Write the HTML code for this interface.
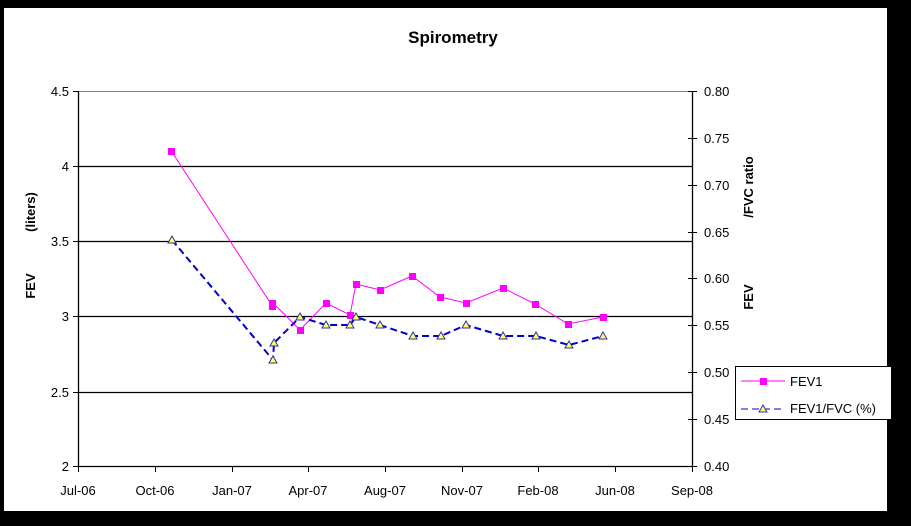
<!DOCTYPE html>
<html><head><style>
html,body{margin:0;padding:0;background:#000;width:911px;height:526px;overflow:hidden}
svg{display:block}
text{font-family:"Liberation Sans",Arial,sans-serif}
</style></head><body>
<svg width="911" height="526" viewBox="0 0 911 526" xmlns="http://www.w3.org/2000/svg">
<rect x="0" y="0" width="911" height="526" fill="#000"/>
<rect x="3" y="7" width="885" height="505" fill="#fff"/>
<rect x="3.5" y="7.5" width="884" height="504" fill="none" stroke="#000" stroke-width="1"/>
<text x="453" y="43" text-anchor="middle" font-size="17" font-weight="bold">Spirometry</text>
<line x1="78" y1="91.5" x2="692" y2="91.5" stroke="#808080"/>
<g stroke="#000" stroke-width="1.3">
<line x1="78" y1="166.5" x2="692" y2="166.5"/>
<line x1="78" y1="241.5" x2="692" y2="241.5"/>
<line x1="78" y1="316.5" x2="692" y2="316.5"/>
<line x1="78" y1="392.5" x2="692" y2="392.5"/>
<line x1="78" y1="466.5" x2="692" y2="466.5"/>
<line x1="78.5" y1="91" x2="78.5" y2="467"/>
<line x1="692.5" y1="91" x2="692.5" y2="467"/>
</g>
<g stroke="#000">
<line x1="73" y1="91.5" x2="78" y2="91.5"/><line x1="73" y1="166.5" x2="78" y2="166.5"/>
<line x1="73" y1="241.5" x2="78" y2="241.5"/><line x1="73" y1="316.5" x2="78" y2="316.5"/>
<line x1="73" y1="392.5" x2="78" y2="392.5"/><line x1="73" y1="466.5" x2="78" y2="466.5"/>
</g>
<g font-size="13" text-anchor="end" fill="#000">
<text x="69" y="96">4.5</text><text x="69" y="171">4</text><text x="69" y="246">3.5</text>
<text x="69" y="321">3</text><text x="69" y="397">2.5</text><text x="69" y="471">2</text>
</g>
<g stroke="#000">
<line x1="688" y1="91.5" x2="697" y2="91.5"/><line x1="688" y1="138.5" x2="697" y2="138.5"/>
<line x1="688" y1="185.5" x2="697" y2="185.5"/><line x1="688" y1="232.5" x2="697" y2="232.5"/>
<line x1="688" y1="278.5" x2="697" y2="278.5"/><line x1="688" y1="325.5" x2="697" y2="325.5"/>
<line x1="688" y1="372.5" x2="697" y2="372.5"/><line x1="688" y1="419.5" x2="697" y2="419.5"/>
<line x1="688" y1="466.5" x2="697" y2="466.5"/>
</g>
<g font-size="13" fill="#000">
<text x="704" y="96">0.80</text><text x="704" y="143">0.75</text><text x="704" y="190">0.70</text>
<text x="704" y="237">0.65</text><text x="704" y="283">0.60</text><text x="704" y="330">0.55</text>
<text x="704" y="377">0.50</text><text x="704" y="424">0.45</text><text x="704" y="471">0.40</text>
</g>
<g stroke="#000">
<line x1="78.5" y1="466" x2="78.5" y2="472"/><line x1="155.5" y1="466" x2="155.5" y2="472"/>
<line x1="232.5" y1="466" x2="232.5" y2="472"/><line x1="308.5" y1="466" x2="308.5" y2="472"/>
<line x1="385.5" y1="466" x2="385.5" y2="472"/><line x1="462.5" y1="466" x2="462.5" y2="472"/>
<line x1="538.5" y1="466" x2="538.5" y2="472"/><line x1="615.5" y1="466" x2="615.5" y2="472"/>
<line x1="692.5" y1="466" x2="692.5" y2="472"/>
</g>
<g font-size="13" text-anchor="middle" fill="#000">
<text x="78" y="495">Jul-06</text><text x="155" y="495">Oct-06</text><text x="232" y="495">Jan-07</text>
<text x="308" y="495">Apr-07</text><text x="385" y="495">Aug-07</text><text x="462" y="495">Nov-07</text>
<text x="538" y="495">Feb-08</text><text x="615" y="495">Jun-08</text><text x="692" y="495">Sep-08</text>
</g>
<g font-size="13" font-weight="bold" text-anchor="middle" fill="#000">
<text transform="translate(35,212) rotate(-90)">(liters)</text>
<text transform="translate(35,286) rotate(-90)">FEV</text>
<text transform="translate(753,187) rotate(-90)">/FVC ratio</text>
<text transform="translate(753,297) rotate(-90)">FEV</text>
</g>
<polyline fill="none" stroke="#ff00ff" stroke-width="1" points="172,152 273,307 273,303 300,330 326,303 350,315 356,284 380,290 412,276 440,297 466,303 503,288 535,304 568,324 603,317"/>
<g fill="#ff00ff">
<rect x="168" y="148" width="7" height="7"/><rect x="269" y="303" width="7" height="7"/><rect x="269" y="300" width="7" height="7"/>
<rect x="297" y="327" width="7" height="7"/><rect x="323" y="300" width="7" height="7"/><rect x="347" y="312" width="7" height="7"/>
<rect x="353" y="281" width="7" height="7"/><rect x="377" y="287" width="7" height="7"/><rect x="409" y="273" width="7" height="7"/>
<rect x="437" y="294" width="7" height="7"/><rect x="463" y="300" width="7" height="7"/><rect x="500" y="285" width="7" height="7"/>
<rect x="532" y="301" width="7" height="7"/><rect x="565" y="321" width="7" height="7"/><rect x="600" y="314" width="7" height="7"/>
</g>
<polyline fill="none" stroke="#0000cc" stroke-width="2" stroke-dasharray="7,4" points="172,240 273,360 274,343 300,317 326,325 350,325 356,317 380,325 413,336 441,336 466,325 503,336 536,336 569,345 603,336"/>
<g fill="#ffff66" stroke="#333399" stroke-width="1">
<polygon points="172,236 176,243 168,243"/><polygon points="273,356 277,363 269,363"/><polygon points="274,339 278,346 270,346"/>
<polygon points="300,313 304,320 296,320"/><polygon points="326,321 330,328 322,328"/><polygon points="350,321 354,328 346,328"/>
<polygon points="356,313 360,320 352,320"/><polygon points="380,321 384,328 376,328"/><polygon points="413,332 417,339 409,339"/>
<polygon points="441,332 445,339 437,339"/><polygon points="466,321 470,328 462,328"/><polygon points="503,332 507,339 499,339"/>
<polygon points="536,332 540,339 532,339"/><polygon points="569,341 573,348 565,348"/><polygon points="603,332 607,339 599,339"/>
</g>
<rect x="735.5" y="366.5" width="156" height="53" fill="#fff" stroke="#000"/>
<line x1="741" y1="381" x2="785" y2="381" stroke="#ff00ff"/>
<rect x="760" y="378" width="7" height="7" fill="#ff00ff"/>
<text x="790" y="386" font-size="13">FEV1</text>
<line x1="741" y1="409" x2="785" y2="409" stroke="#0000cc" stroke-dasharray="7,4"/>
<polygon points="763,405 767,412 759,412" fill="#ffff66" stroke="#333399"/>
<text x="790" y="413" font-size="13">FEV1/FVC (%)</text>
</svg>
</body></html>
